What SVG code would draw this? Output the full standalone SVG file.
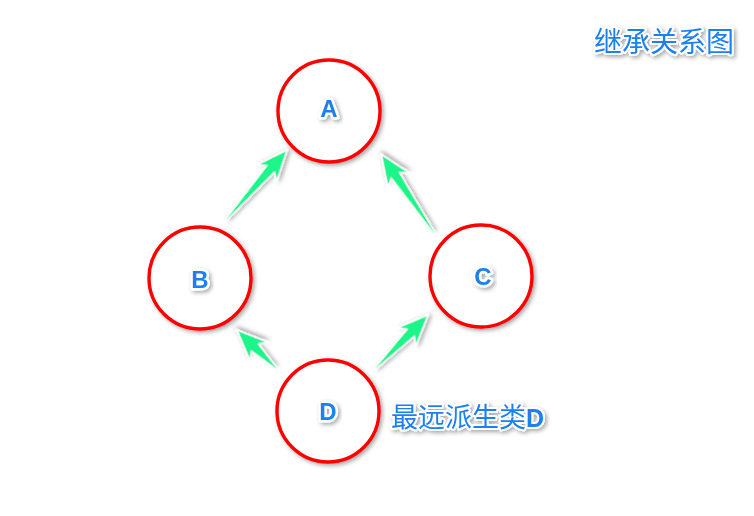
<svg xmlns="http://www.w3.org/2000/svg" width="754" height="516" viewBox="0 0 754 516">
<defs>
<filter id="sh" x="-30%" y="-30%" width="160%" height="160%">
<feDropShadow dx="2" dy="2" stdDeviation="2" flood-color="#000" flood-opacity="0.35"/>
</filter>
<style>
.node{fill:#fff;stroke:#ff0000;stroke-width:3.4;filter:url(#sh)}
.lbl{font-family:"Liberation Sans",Arial,sans-serif;font-weight:bold;font-size:24px;fill:#1a80f0;stroke:#fff;stroke-width:5;paint-order:stroke;stroke-linejoin:round;text-anchor:middle;filter:url(#sh)}
.cap{font-family:"Liberation Sans","Noto Sans CJK SC",sans-serif;fill:#1a80f0;stroke:#fff;stroke-width:4;paint-order:stroke;stroke-linejoin:round;filter:url(#sh)}
.arr{fill:#1ef58a;stroke:#fff;stroke-width:1.5;stroke-linejoin:round;filter:url(#sh)}
</style>
</defs>
<rect width="754" height="516" fill="#fff"/>
<g id="connectors">
<path class="arr" transform="translate(226,220) rotate(-48.9)" d="M0,-0.8 L68,-5 L62,-13 L93,0 L62,13 L68,5 L0,0.8 Z"/>
<path class="arr" transform="translate(435,234) rotate(-124)" d="M0,-0.8 L71,-5 L65,-13 L96,0 L65,13 L71,5 L0,0.8 Z"/>
<path class="arr" transform="translate(277,369) rotate(-135.7)" d="M0,-0.8 L31,-5 L25,-13 L56,0 L25,13 L31,5 L0,0.8 Z"/>
<path class="arr" transform="translate(375,369) rotate(-45.5)" d="M0,-0.8 L51,-5 L45,-13 L76,0 L45,13 L51,5 L0,0.8 Z"/>
</g>
<g id="A"><circle class="node" cx="329" cy="111" r="51"/><text class="lbl" x="329" y="117">A</text></g>
<g id="B"><circle class="node" cx="200" cy="278" r="51"/><text class="lbl" x="200" y="288">B</text></g>
<g id="C"><circle class="node" cx="481" cy="276" r="51"/><text class="lbl" x="483" y="285">C</text></g>
<g id="D"><circle class="node" cx="328" cy="411" r="51"/><text class="lbl" x="328" y="420">D</text></g>
<text class="cap" x="594" y="52" font-size="28">继承关系图</text>
<text class="cap" x="391" y="427" font-size="27">最远派生类<tspan font-weight="bold" font-size="25">D</tspan></text>
</svg>
